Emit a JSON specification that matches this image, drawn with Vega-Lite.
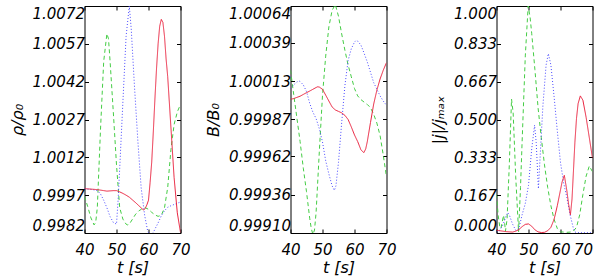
{
  "$schema": "https://vega.github.io/schema/vega-lite/v6.json",
  "background": "white",
  "padding": {"left": 8.5, "top": 4, "right": 0, "bottom": 0},
  "spacing": 110,
  "bounds": "flush",
  "datasets": {
    "A": [
      {"s":"g","t":40,"v":0.99965},{"s":"g","t":41,"v":0.99925},{"s":"g","t":42,"v":0.9988},{"s":"g","t":43,"v":0.99852},{"s":"g","t":43.5,"v":0.99862},{"s":"g","t":44,"v":0.9992},{"s":"g","t":45,"v":1.0023},{"s":"g","t":46,"v":1.005},{"s":"g","t":47,"v":1.0061},{"s":"g","t":47.5,"v":1.0059},{"s":"g","t":48,"v":1.005},{"s":"g","t":49,"v":1.003},{"s":"g","t":50,"v":1.0009},{"s":"g","t":51,"v":0.9992},{"s":"g","t":52,"v":0.99875},{"s":"g","t":53,"v":0.99855},{"s":"g","t":53.5,"v":0.99852},{"s":"g","t":54,"v":0.99855},{"s":"g","t":55,"v":0.99875},{"s":"g","t":56,"v":0.99895},{"s":"g","t":57,"v":0.99908},{"s":"g","t":58,"v":0.99916},{"s":"g","t":59,"v":0.9992},{"s":"g","t":60,"v":0.99914},{"s":"g","t":61,"v":0.99902},{"s":"g","t":62,"v":0.99892},{"s":"g","t":63,"v":0.99886},{"s":"g","t":64,"v":0.9989},{"s":"g","t":65,"v":0.9992},{"s":"g","t":66,"v":1.0},{"s":"g","t":67,"v":1.0015},{"s":"g","t":67.5,"v":1.002},{"s":"g","t":68,"v":1.0025},{"s":"g","t":69,"v":1.003},{"s":"g","t":70,"v":1.0033},
      {"s":"b","t":40,"v":0.99996},{"s":"b","t":41,"v":0.99994},{"s":"b","t":42,"v":0.99993},{"s":"b","t":43,"v":0.99991},{"s":"b","t":44,"v":0.99988},{"s":"b","t":45,"v":0.99975},{"s":"b","t":46,"v":0.9995},{"s":"b","t":47,"v":0.9992},{"s":"b","t":48,"v":0.99885},{"s":"b","t":49,"v":0.99862},{"s":"b","t":50,"v":0.99855},{"s":"b","t":50.5,"v":0.9995},{"s":"b","t":51,"v":1.00075},{"s":"b","t":52,"v":1.0034},{"s":"b","t":53,"v":1.006},{"s":"b","t":54,"v":1.0072},{"s":"b","t":54.6,"v":1.0063},{"s":"b","t":55.6,"v":1.00405},{"s":"b","t":56.7,"v":1.0018},{"s":"b","t":57.7,"v":1.0},{"s":"b","t":58.8,"v":0.9989},{"s":"b","t":59.8,"v":0.99824},{"s":"b","t":60.8,"v":0.99814},{"s":"b","t":61.5,"v":0.99822},{"s":"b","t":62,"v":0.99835},{"s":"b","t":63,"v":0.9986},{"s":"b","t":64,"v":0.99888},{"s":"b","t":65,"v":0.99908},{"s":"b","t":66,"v":0.99922},{"s":"b","t":67,"v":0.99928},{"s":"b","t":68,"v":0.99933},{"s":"b","t":69,"v":0.99938},{"s":"b","t":70,"v":0.99943},
      {"s":"r","t":40,"v":0.99996},{"s":"r","t":41,"v":0.99995},{"s":"r","t":42,"v":0.99994},{"s":"r","t":43,"v":0.99993},{"s":"r","t":44,"v":0.99992},{"s":"r","t":45,"v":0.9999},{"s":"r","t":46,"v":0.99988},{"s":"r","t":47,"v":0.99986},{"s":"r","t":48,"v":0.99987},{"s":"r","t":49,"v":0.99988},{"s":"r","t":50,"v":0.99988},{"s":"r","t":51,"v":0.99983},{"s":"r","t":52,"v":0.99977},{"s":"r","t":53,"v":0.9997},{"s":"r","t":54,"v":0.99962},{"s":"r","t":55,"v":0.99951},{"s":"r","t":56,"v":0.9994},{"s":"r","t":57,"v":0.99928},{"s":"r","t":58,"v":0.99916},{"s":"r","t":58.5,"v":0.99911},{"s":"r","t":59,"v":0.99918},{"s":"r","t":59.5,"v":0.99932},{"s":"r","t":60,"v":0.9995},{"s":"r","t":60.5,"v":1.0002},{"s":"r","t":61,"v":1.001},{"s":"r","t":61.5,"v":1.0022},{"s":"r","t":62,"v":1.0035},{"s":"r","t":62.5,"v":1.0047},{"s":"r","t":63,"v":1.0057},{"s":"r","t":63.5,"v":1.0064},{"s":"r","t":64,"v":1.00667},{"s":"r","t":64.5,"v":1.00655},{"s":"r","t":65,"v":1.006},{"s":"r","t":65.5,"v":1.0051},{"s":"r","t":66,"v":1.0044},{"s":"r","t":67,"v":1.0024},{"s":"r","t":68,"v":1.0004},{"s":"r","t":69,"v":0.999},{"s":"r","t":70,"v":0.99822}
    ],
    "B": [
      {"s":"g","t":40,"v":1.000204},{"s":"g","t":41,"v":1.00004},{"s":"g","t":42,"v":0.99988},{"s":"g","t":43,"v":0.99972},{"s":"g","t":44,"v":0.99954},{"s":"g","t":45,"v":0.99938},{"s":"g","t":46,"v":0.9992},{"s":"g","t":46.5,"v":0.99913},{"s":"g","t":47,"v":0.99909},{"s":"g","t":47.5,"v":0.99912},{"s":"g","t":48,"v":0.99924},{"s":"g","t":49,"v":0.99965},{"s":"g","t":50,"v":1.000034},{"s":"g","t":51,"v":1.0003},{"s":"g","t":52,"v":1.0005},{"s":"g","t":53,"v":1.00061},{"s":"g","t":54,"v":1.00065},{"s":"g","t":55,"v":1.00057},{"s":"g","t":56,"v":1.00045},{"s":"g","t":57,"v":1.00034},{"s":"g","t":58,"v":1.00024},{"s":"g","t":59,"v":1.00016},{"s":"g","t":60,"v":1.00008},{"s":"g","t":61,"v":1.00003},{"s":"g","t":62,"v":1.000005},{"s":"g","t":63,"v":0.999988},{"s":"g","t":64,"v":0.999972},{"s":"g","t":65,"v":0.99995},{"s":"g","t":66,"v":0.999905},{"s":"g","t":67,"v":0.999845},{"s":"g","t":68,"v":0.99976},{"s":"g","t":69,"v":0.999627},{"s":"g","t":70,"v":0.99948},
      {"s":"b","t":40,"v":1.000079},{"s":"b","t":41,"v":1.000105},{"s":"b","t":42,"v":1.000125},{"s":"b","t":42.7,"v":1.000131},{"s":"b","t":43,"v":1.000128},{"s":"b","t":44,"v":1.000105},{"s":"b","t":45,"v":1.00006},{"s":"b","t":46,"v":0.99998},{"s":"b","t":47,"v":0.99992},{"s":"b","t":48,"v":0.999876},{"s":"b","t":49,"v":0.999808},{"s":"b","t":50,"v":0.999717},{"s":"b","t":51,"v":0.99959},{"s":"b","t":52,"v":0.9995},{"s":"b","t":53,"v":0.99942},{"s":"b","t":53.7,"v":0.999389},{"s":"b","t":54.2,"v":0.99942},{"s":"b","t":55,"v":0.99958},{"s":"b","t":56,"v":0.99985},{"s":"b","t":57,"v":1.0001},{"s":"b","t":58,"v":1.00027},{"s":"b","t":59,"v":1.00035},{"s":"b","t":60,"v":1.000395},{"s":"b","t":60.5,"v":1.000407},{"s":"b","t":61,"v":1.000402},{"s":"b","t":62,"v":1.000375},{"s":"b","t":63,"v":1.00032},{"s":"b","t":64,"v":1.00026},{"s":"b","t":65,"v":1.00019},{"s":"b","t":66,"v":1.00012},{"s":"b","t":67,"v":1.000075},{"s":"b","t":68,"v":1.00003},{"s":"b","t":69,"v":0.999995},{"s":"b","t":70,"v":0.999966},
      {"s":"r","t":40,"v":1.000007},{"s":"r","t":41,"v":1.000012},{"s":"r","t":42,"v":1.00002},{"s":"r","t":43,"v":1.000028},{"s":"r","t":44,"v":1.00004},{"s":"r","t":45,"v":1.000052},{"s":"r","t":46,"v":1.000063},{"s":"r","t":47,"v":1.000075},{"s":"r","t":48,"v":1.000087},{"s":"r","t":48.5,"v":1.000092},{"s":"r","t":49,"v":1.00009},{"s":"r","t":50,"v":1.000075},{"s":"r","t":51,"v":1.000035},{"s":"r","t":52,"v":0.999995},{"s":"r","t":53,"v":0.999955},{"s":"r","t":54,"v":0.999935},{"s":"r","t":55,"v":0.999925},{"s":"r","t":56,"v":0.999915},{"s":"r","t":57,"v":0.999898},{"s":"r","t":58,"v":0.99987},{"s":"r","t":59,"v":0.99982},{"s":"r","t":60,"v":0.999765},{"s":"r","t":61,"v":0.99972},{"s":"r","t":62,"v":0.999665},{"s":"r","t":62.9,"v":0.999645},{"s":"r","t":63.5,"v":0.99967},{"s":"r","t":64,"v":0.99972},{"s":"r","t":65,"v":0.99985},{"s":"r","t":66,"v":0.999975},{"s":"r","t":67,"v":1.00007},{"s":"r","t":68,"v":1.000145},{"s":"r","t":69,"v":1.000205},{"s":"r","t":70,"v":1.000256}
    ],
    "C": [
      {"s":"g","t":40,"v":0.17},{"s":"g","t":40.5,"v":0.08},{"s":"g","t":41,"v":0.03},{"s":"g","t":41.4,"v":0.02},{"s":"g","t":41.8,"v":0.05},{"s":"g","t":42.2,"v":0.078},{"s":"g","t":42.5,"v":0.05},{"s":"g","t":42.8,"v":0.008},{"s":"g","t":43.3,"v":0.06},{"s":"g","t":44,"v":0.3},{"s":"g","t":44.7,"v":0.59},{"s":"g","t":45.2,"v":0.53},{"s":"g","t":46,"v":0.25},{"s":"g","t":46.9,"v":0.005},{"s":"g","t":47.5,"v":0.2},{"s":"g","t":48,"v":0.4},{"s":"g","t":49,"v":0.78},{"s":"g","t":49.9,"v":1.0},{"s":"g","t":50.5,"v":0.95},{"s":"g","t":51,"v":0.88},{"s":"g","t":52,"v":0.72},{"s":"g","t":53,"v":0.55},{"s":"g","t":54,"v":0.42},{"s":"g","t":55,"v":0.3},{"s":"g","t":56,"v":0.2},{"s":"g","t":57,"v":0.12},{"s":"g","t":58,"v":0.06},{"s":"g","t":59,"v":0.02},{"s":"g","t":60,"v":0.005},{"s":"g","t":61,"v":0.004},{"s":"g","t":62,"v":0.003},{"s":"g","t":63,"v":0.004},{"s":"g","t":64,"v":0.008},{"s":"g","t":65,"v":0.025},{"s":"g","t":66,"v":0.08},{"s":"g","t":67,"v":0.17},{"s":"g","t":68,"v":0.25},{"s":"g","t":69,"v":0.295},{"s":"g","t":70,"v":0.27},
      {"s":"b","t":40,"v":0.004},{"s":"b","t":41,"v":0.012},{"s":"b","t":42,"v":0.035},{"s":"b","t":43,"v":0.075},{"s":"b","t":43.5,"v":0.09},{"s":"b","t":44,"v":0.08},{"s":"b","t":45,"v":0.04},{"s":"b","t":46,"v":0.012},{"s":"b","t":47,"v":0.02},{"s":"b","t":48,"v":0.08},{"s":"b","t":49,"v":0.13},{"s":"b","t":50,"v":0.21},{"s":"b","t":51,"v":0.37},{"s":"b","t":51.9,"v":0.475},{"s":"b","t":52.4,"v":0.4},{"s":"b","t":53.1,"v":0.195},{"s":"b","t":53.8,"v":0.38},{"s":"b","t":54.5,"v":0.56},{"s":"b","t":55.5,"v":0.74},{"s":"b","t":56.2,"v":0.79},{"s":"b","t":57,"v":0.74},{"s":"b","t":58,"v":0.6},{"s":"b","t":59,"v":0.45},{"s":"b","t":60,"v":0.31},{"s":"b","t":61,"v":0.22},{"s":"b","t":62,"v":0.155},{"s":"b","t":63,"v":0.08},{"s":"b","t":64,"v":0.022},{"s":"b","t":64.6,"v":0.004},{"s":"b","t":65,"v":0.002},{"s":"b","t":66,"v":0.001},{"s":"b","t":68,"v":0.001},{"s":"b","t":70,"v":0.001},
      {"s":"r","t":40,"v":0.012},{"s":"r","t":41,"v":0.01},{"s":"r","t":42,"v":0.008},{"s":"r","t":43,"v":0.006},{"s":"r","t":44,"v":0.005},{"s":"r","t":45,"v":0.004},{"s":"r","t":46,"v":0.008},{"s":"r","t":47,"v":0.015},{"s":"r","t":48,"v":0.028},{"s":"r","t":49,"v":0.038},{"s":"r","t":50,"v":0.04},{"s":"r","t":51,"v":0.03},{"s":"r","t":52,"v":0.014},{"s":"r","t":53,"v":0.005},{"s":"r","t":54,"v":0.002},{"s":"r","t":55,"v":0.003},{"s":"r","t":56,"v":0.01},{"s":"r","t":57,"v":0.025},{"s":"r","t":58,"v":0.06},{"s":"r","t":59,"v":0.12},{"s":"r","t":60,"v":0.19},{"s":"r","t":60.5,"v":0.225},{"s":"r","t":61.2,"v":0.254},{"s":"r","t":62,"v":0.185},{"s":"r","t":62.5,"v":0.13},{"s":"r","t":63.1,"v":0.08},{"s":"r","t":63.6,"v":0.15},{"s":"r","t":64,"v":0.26},{"s":"r","t":64.5,"v":0.4},{"s":"r","t":65,"v":0.505},{"s":"r","t":65.5,"v":0.57},{"s":"r","t":66.2,"v":0.604},{"s":"r","t":67,"v":0.585},{"s":"r","t":68,"v":0.51},{"s":"r","t":69,"v":0.42},{"s":"r","t":70,"v":0.33}
    ]
  },
  "hconcat": [
    {
      "width": 96, "height": 227,
      "data": {"name": "A"},
      "layer": [
        {
          "mark": {"type": "line", "strokeWidth": 1, "clip": true},
          "encoding": {
            "x": {"field": "t", "type": "quantitative", "scale": {"domain": [40, 70], "nice": false, "zero": false}, "axis": {"orient": "bottom", "values": [40, 50, 60, 70], "title": "t [s]", "labelPadding": 13, "labelFlush": false, "titlePadding": 2}},
            "y": {"field": "v", "type": "quantitative", "scale": {"domain": [0.9982, 1.0072], "nice": false, "zero": false}, "axis": {"orient": "left", "values": [0.9982, 0.9997, 1.0012, 1.0027, 1.0042, 1.0057, 1.0072], "format": ".4f", "title": "ρ/ρ₀", "labelPadding": 4, "labelFlush": true}},
            "color": {"field": "s", "type": "nominal", "scale": {"domain": ["g", "b", "r"], "range": ["#44cc44", "#4a4aff", "#e8203c"]}, "legend": null},
            "strokeDash": {"field": "s", "type": "nominal", "scale": {"domain": ["g", "b", "r"], "range": [[4, 3], [1, 2], [1, 0]]}, "legend": null}
          }
        },
        {
          "mark": {"type": "line", "opacity": 0},
          "encoding": {
            "x": {"field": "t", "type": "quantitative", "scale": {"domain": [40, 70], "nice": false, "zero": false}, "axis": {"orient": "top", "values": [40, 50, 60, 70], "labels": false, "title": null}},
            "y": {"field": "v", "type": "quantitative", "scale": {"domain": [0.9982, 1.0072], "nice": false, "zero": false}, "axis": {"orient": "right", "values": [0.9982, 0.9997, 1.0012, 1.0027, 1.0042, 1.0057, 1.0072], "labels": false, "title": null}},
            "detail": {"field": "s", "type": "nominal"}
          }
        }
      ],
      "resolve": {"axis": {"x": "independent", "y": "independent"}}
    },
    {
      "width": 96, "height": 227,
      "data": {"name": "B"},
      "layer": [
        {
          "mark": {"type": "line", "strokeWidth": 1, "clip": true},
          "encoding": {
            "x": {"field": "t", "type": "quantitative", "scale": {"domain": [40, 70], "nice": false, "zero": false}, "axis": {"orient": "bottom", "values": [40, 50, 60, 70], "title": "t [s]", "labelPadding": 13, "labelFlush": false, "titlePadding": 2}},
            "y": {"field": "v", "type": "quantitative", "scale": {"domain": [0.9991, 1.00064], "nice": false, "zero": false}, "axis": {"orient": "left", "values": [0.9991, 0.99936, 0.99962, 0.99987, 1.00013, 1.00039, 1.00064], "format": ".5f", "title": "B/B₀", "labelPadding": 4, "labelFlush": true}},
            "color": {"field": "s", "type": "nominal", "scale": {"domain": ["g", "b", "r"], "range": ["#44cc44", "#4a4aff", "#e8203c"]}, "legend": null},
            "strokeDash": {"field": "s", "type": "nominal", "scale": {"domain": ["g", "b", "r"], "range": [[4, 3], [1, 2], [1, 0]]}, "legend": null}
          }
        },
        {
          "mark": {"type": "line", "opacity": 0},
          "encoding": {
            "x": {"field": "t", "type": "quantitative", "scale": {"domain": [40, 70], "nice": false, "zero": false}, "axis": {"orient": "top", "values": [40, 50, 60, 70], "labels": false, "title": null}},
            "y": {"field": "v", "type": "quantitative", "scale": {"domain": [0.9991, 1.00064], "nice": false, "zero": false}, "axis": {"orient": "right", "values": [0.9991, 0.99936, 0.99962, 0.99987, 1.00013, 1.00039, 1.00064], "labels": false, "title": null}},
            "detail": {"field": "s", "type": "nominal"}
          }
        }
      ],
      "resolve": {"axis": {"x": "independent", "y": "independent"}}
    },
    {
      "width": 96, "height": 227,
      "data": {"name": "C"},
      "layer": [
        {
          "mark": {"type": "line", "strokeWidth": 1, "clip": true},
          "encoding": {
            "x": {"field": "t", "type": "quantitative", "scale": {"domain": [40, 70], "nice": false, "zero": false}, "axis": {"orient": "bottom", "values": [40, 50, 60, 70], "title": "t [s]", "labelPadding": 13, "labelFlush": false, "titlePadding": 2, "labelAlign": {"condition": {"test": "datum.value == 70", "value": "right"}, "value": "center"}}},
            "y": {"field": "v", "type": "quantitative", "scale": {"domain": [0, 1], "nice": false, "zero": false}, "axis": {"orient": "left", "values": [0, 0.167, 0.333, 0.5, 0.667, 0.833, 1], "format": ".3f", "title": "|j|/jₘₐₓ", "labelPadding": 4, "labelFlush": true}},
            "color": {"field": "s", "type": "nominal", "scale": {"domain": ["g", "b", "r"], "range": ["#44cc44", "#4a4aff", "#e8203c"]}, "legend": null},
            "strokeDash": {"field": "s", "type": "nominal", "scale": {"domain": ["g", "b", "r"], "range": [[4, 3], [1, 2], [1, 0]]}, "legend": null}
          }
        },
        {
          "mark": {"type": "line", "opacity": 0},
          "encoding": {
            "x": {"field": "t", "type": "quantitative", "scale": {"domain": [40, 70], "nice": false, "zero": false}, "axis": {"orient": "top", "values": [40, 50, 60, 70], "labels": false, "title": null}},
            "y": {"field": "v", "type": "quantitative", "scale": {"domain": [0, 1], "nice": false, "zero": false}, "axis": {"orient": "right", "values": [0, 0.167, 0.333, 0.5, 0.667, 0.833, 1], "labels": false, "title": null}},
            "detail": {"field": "s", "type": "nominal"}
          }
        }
      ],
      "resolve": {"axis": {"x": "independent", "y": "independent"}}
    }
  ],
  "config": {
    "view": {"stroke": "black", "strokeWidth": 1},
    "axis": {
      "domain": false, "grid": false, "ticks": true, "tickSize": -4, "tickColor": "black", "tickWidth": 1,
      "labelFont": "DejaVu Sans", "labelFontStyle": "italic", "labelFontSize": 15, "labelColor": "black",
      "titleFont": "DejaVu Sans", "titleFontStyle": "italic", "titleFontSize": 16, "titleFontWeight": "normal", "titleColor": "black", "titlePadding": 7
    }
  }
}
